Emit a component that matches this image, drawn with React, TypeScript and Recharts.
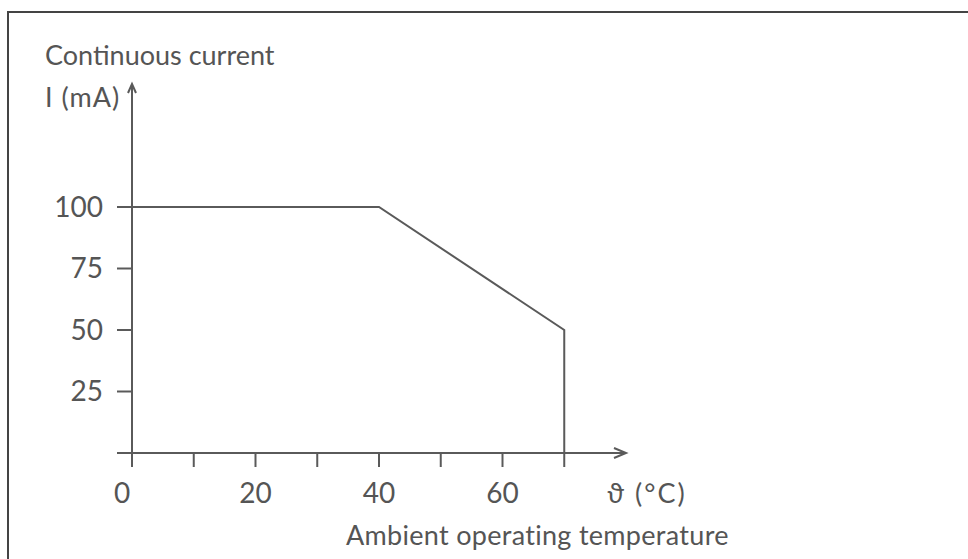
import { LineChart, Line, XAxis, YAxis, ReferenceDot } from 'recharts'

const temperatures = [0, 40, 70, 70]
const currents = [100, 100, 50, 0]
const xTicks = [0, 10, 20, 30, 40, 50, 60, 70]
const xLabelled = [0, 20, 40, 60]
const yTicks = [0, 25, 50, 75, 100]

const data = temperatures.map((t, i) => ({ t, i: currents[i] }))

const INK = '#5a5a5a'
const TEXT = '#555555'
const FONT = 'Lato, "Open Sans", sans-serif'
const Y_TICK = 15
const Y_GAP = 14

function XTick(props: any) {
  const { x, y, payload } = props
  const v = payload.value as number
  if (!xLabelled.includes(v)) return null
  return (
    <text x={x + (v === 0 ? -10 : 0)} y={y} dy="0.71em" textAnchor="middle" fill={TEXT} fontSize={28} fontFamily={FONT}>
      {v}
    </text>
  )
}

// tick line drawn here so it meets the axis line exactly
function YTick(props: any) {
  const { x, y, payload } = props
  const v = payload.value as number
  const x0 = x + Y_GAP
  return (
    <g>
      <line x1={x0} y1={y} x2={x0 + Y_TICK + 1} y2={y} stroke={INK} strokeWidth={2} />
      {v !== 0 && (
        <text x={x} y={y} dy="0.355em" textAnchor="end" fill={TEXT} fontSize={28} fontFamily={FONT}>
          {v}
        </text>
      )}
    </g>
  )
}

function ArrowRight(props: any) {
  const { cx, cy } = props
  return <path d={`M${cx - 12},${cy - 5} L${cx},${cy} L${cx - 12},${cy + 5}`} fill="none" stroke={INK} strokeWidth={2} />
}

function ArrowUp(props: any) {
  const { cx, cy } = props
  return <path d={`M${cx - 4},${cy + 9} L${cx},${cy} L${cx + 4},${cy + 9}`} fill="none" stroke={INK} strokeWidth={2} />
}

const label = (left: number, top: number, text: string, spacing = 0) => (
  <div
    style={{
      position: 'absolute',
      left,
      top,
      fontFamily: FONT,
      fontSize: 27,
      lineHeight: '27px',
      letterSpacing: spacing,
      color: TEXT,
      whiteSpace: 'nowrap',
    }}
  >
    {text}
  </div>
)

export default function App() {
  return (
    <div style={{ position: 'fixed', left: 0, top: 0, width: 968, height: 559, overflow: 'hidden', background: '#fff' }}>
      <div style={{ position: 'absolute', left: 7, top: 11, width: 1000, height: 600, border: '2px solid #444' }} />
      <div style={{ position: 'absolute', left: 0, top: 0 }}>
        <LineChart width={968} height={559} data={data} margin={{ top: 84, right: 342, left: 12, bottom: 46 }}>
          <XAxis
            dataKey="t"
            type="number"
            domain={[0, 80]}
            ticks={xTicks}
            interval={0}
            height={60}
            axisLine={{ stroke: INK, strokeWidth: 2 }}
            tickLine={{ stroke: INK, strokeWidth: 2 }}
            tickSize={14}
            tickMargin={16}
            tick={<XTick />}
          />
          <YAxis
            type="number"
            domain={[0, 150]}
            ticks={yTicks}
            interval={0}
            width={120}
            axisLine={{ stroke: INK, strokeWidth: 2 }}
            tickLine={false}
            tickSize={Y_TICK}
            tickMargin={Y_GAP}
            tick={<YTick />}
          />
          <Line
            dataKey="i"
            type="linear"
            stroke={INK}
            strokeWidth={2}
            dot={false}
            activeDot={false}
            isAnimationActive={false}
          />
          <ReferenceDot x={80} y={0} r={0} ifOverflow="visible" shape={<ArrowRight />} />
          <ReferenceDot x={0} y={150} r={0} ifOverflow="visible" shape={<ArrowUp />} />
        </LineChart>
      </div>
      {label(45, 41, 'Continuous current')}
      {label(45, 83, 'I (mA)', 1)}
      {label(607, 479, 'ϑ (°C)', 2)}
      {label(346, 521, 'Ambient operating temperature', 0.3)}
    </div>
  )
}
